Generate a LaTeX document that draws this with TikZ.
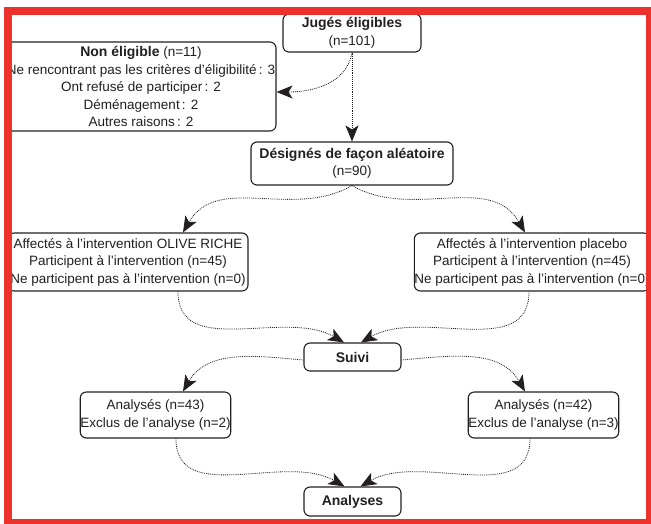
\documentclass[tikz,border=0pt]{standalone}
\usepackage{fontspec}
\setmainfont{Liberation Sans}
\usetikzlibrary{arrows.meta}
\definecolor{framered}{RGB}{237,50,46}
\definecolor{ink}{RGB}{35,31,32}
\tikzset{
  flowbox/.style={draw=ink, line width=1.1pt, rounded corners=6pt, fill=white,
    align=center, inner sep=0pt, text=ink,
    font=\fontsize{13.5}{17.5}\selectfont},
  flowarrow/.style={draw=ink, line width=0.8pt, dash pattern=on 0.9pt off 1pt,
    -{Stealth[length=16pt,width=13pt,inset=4pt]}},
}
\begin{document}
\begin{tikzpicture}[x=1pt,y=1pt]
\useasboundingbox (0,0) rectangle (651,-523);

% boxes
\node[flowbox, minimum width=138pt, minimum height=38pt] (jug) at (352,-33)
  {{\fontsize{14}{17}\selectfont\bfseries Jugés éligibles}\\(n=101)};
\node[flowbox, minimum width=270pt, minimum height=89pt] (non) at (141,-86.5)
  {{\fontsize{14}{17}\selectfont\bfseries Non éligible} (n=11)\\
   Ne rencontrant pas les critères d’éligibilité\,: 3\\
   Ont refusé de participer\,: 2\\
   Déménagement\,: 2\\
   Autres raisons\,: 2};
\node[flowbox, minimum width=202pt, minimum height=43pt] (des) at (352,-163.5)
  {{\fontsize{14}{17}\selectfont\bfseries Désignés de façon aléatoire}\\(n=90)};
\node[flowbox, minimum width=240pt, minimum height=58pt] (olive) at (128,-262)
  {Affectés à l’intervention OLIVE RICHE\\
   Participent à l’intervention (n=45)\\
   Ne participent pas à l’intervention (n=0)};
\node[flowbox, minimum width=235pt, minimum height=58pt] (plac) at (532,-262)
  {Affectés à l’intervention placebo\\
   Participent à l’intervention (n=45)\\
   Ne participent pas à l’intervention (n=0)};
\node[flowbox, minimum width=97pt, minimum height=28pt] (suivi) at (352.5,-357)
  {{\fontsize{14}{17}\selectfont\bfseries Suivi}};
\node[flowbox, minimum width=149pt, minimum height=46pt] (al1) at (155.5,-415)
  {Analysés (n=43)\\Exclus de l’analyse (n=2)};
\node[flowbox, minimum width=149pt, minimum height=46pt] (al2) at (543.5,-415)
  {Analysés (n=42)\\Exclus de l’analyse (n=3)};
\node[flowbox, minimum width=97pt, minimum height=29pt] (ana) at (352.5,-501.5)
  {{\fontsize{14}{17}\selectfont\bfseries Analyses}};

% connectors
\draw[flowarrow] (jug.south) -- (des.north);
\draw[flowarrow] (jug.south) to[out=-100,in=0] ([yshift=-5.5pt]non.east);
\draw[flowarrow] (des.south) to[out=210,in=60] ([xshift=55pt]olive.north);
\draw[flowarrow] (des.south) to[out=-30,in=120] ([xshift=-7pt]plac.north);
\draw[flowarrow] ([xshift=50pt]olive.south) to[out=-90,in=150] ([xshift=-8.5pt]suivi.north);
\draw[flowarrow] ([xshift=-3pt]plac.south) to[out=-90,in=30] ([xshift=8.5pt]suivi.north);
\draw[flowarrow] ([yshift=-3pt]suivi.west) to[out=175,in=60] ([xshift=27.5pt]al1.north);
\draw[flowarrow] ([yshift=-3pt]suivi.east) to[out=5,in=120] ([xshift=-18.5pt]al2.north);
\draw[flowarrow] ([xshift=20.5pt]al1.south) to[out=-90,in=150] ([xshift=-8pt]ana.north);
\draw[flowarrow] ([xshift=-13.5pt]al2.south) to[out=-90,in=30] ([xshift=8pt]ana.north);

% red frame on top
\draw[framered, line width=8pt] (8,-11) rectangle (650,-523);
\end{tikzpicture}
\end{document}
